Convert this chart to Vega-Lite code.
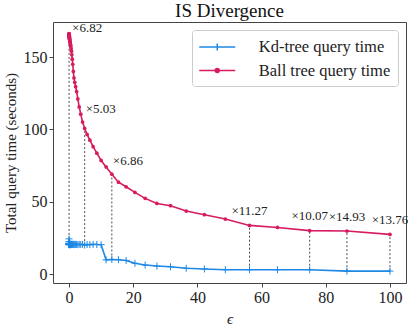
{
  "$schema": "https://vega.github.io/schema/vega-lite/v6.json",
  "width": 353,
  "height": 261,
  "autosize": {"type": "none"},
  "padding": {"left": 53, "top": 22, "right": 2, "bottom": 43},
  "background": "white",
  "config": {
    "font": "Liberation Serif",
    "view": {"stroke": "#444", "strokeWidth": 1},
    "axis": {
      "grid": false,
      "domain": false,
      "ticks": true,
      "tickSize": 4,
      "tickColor": "#444",
      "labelFont": "Liberation Serif",
      "labelFontSize": 16,
      "labelColor": "#222",
      "labelPadding": 2,
      "titleFont": "Liberation Serif",
      "titleFontSize": 15,
      "titleFontWeight": "normal",
      "titleColor": "#222"
    },
    "legend": {
      "title": null,
      "orient": "top-right",
      "offset": 8,
      "labelFont": "Liberation Serif",
      "labelFontSize": 16.5,
      "labelColor": "#222",
      "symbolSize": 324,
      "symbolStrokeWidth": 1.5,
      "symbolOffset": 8.25,
      "strokeColor": "#cccccc",
      "fillColor": "white",
      "cornerRadius": 3,
      "padding": 7,
      "rowPadding": 4.5,
      "labelOffset": 31.5
    }
  },
  "title": {"text": "IS Divergence", "font": "Liberation Serif", "fontSize": 19, "fontWeight": "normal", "color": "#111", "offset": 1},
  "data": {
    "values": [
      {"eps": 0.01, "kd": 24.3, "ball": 166.0, "ratio": "×6.82"},
      {"eps": 0.01155, "kd": 22.5, "ball": 166.2},
      {"eps": 0.01334, "kd": 21.4, "ball": 165.8},
      {"eps": 0.0154, "kd": 20.9, "ball": 165.9},
      {"eps": 0.01778, "kd": 20.6, "ball": 165.5},
      {"eps": 0.02054, "kd": 20.8, "ball": 165.6},
      {"eps": 0.02371, "kd": 20.5, "ball": 165.2},
      {"eps": 0.02738, "kd": 20.7, "ball": 165.3},
      {"eps": 0.03162, "kd": 20.4, "ball": 165.0},
      {"eps": 0.03652, "kd": 20.6, "ball": 164.9},
      {"eps": 0.04217, "kd": 20.5, "ball": 164.7},
      {"eps": 0.0487, "kd": 20.3, "ball": 164.6},
      {"eps": 0.05623, "kd": 20.6, "ball": 164.3},
      {"eps": 0.06494, "kd": 20.4, "ball": 164.1},
      {"eps": 0.07499, "kd": 20.5, "ball": 163.9},
      {"eps": 0.0866, "kd": 20.3, "ball": 163.6},
      {"eps": 0.1, "kd": 20.6, "ball": 163.4},
      {"eps": 0.1155, "kd": 20.4, "ball": 163.1},
      {"eps": 0.1334, "kd": 20.5, "ball": 162.8},
      {"eps": 0.154, "kd": 20.3, "ball": 162.5},
      {"eps": 0.1778, "kd": 20.6, "ball": 162.1},
      {"eps": 0.2054, "kd": 20.4, "ball": 161.7},
      {"eps": 0.2371, "kd": 20.5, "ball": 161.2},
      {"eps": 0.2738, "kd": 20.3, "ball": 160.8},
      {"eps": 0.3162, "kd": 20.5, "ball": 160.2},
      {"eps": 0.3652, "kd": 20.4, "ball": 159.6},
      {"eps": 0.4217, "kd": 20.6, "ball": 158.9},
      {"eps": 0.487, "kd": 20.4, "ball": 158.1},
      {"eps": 0.5623, "kd": 20.5, "ball": 157.0},
      {"eps": 0.6494, "kd": 20.3, "ball": 155.6},
      {"eps": 0.7499, "kd": 20.5, "ball": 154.0},
      {"eps": 0.866, "kd": 20.4, "ball": 151.5},
      {"eps": 1.0, "kd": 20.6, "ball": 148.5},
      {"eps": 1.1548, "kd": 20.4, "ball": 145.0},
      {"eps": 1.3335, "kd": 20.5, "ball": 140.0},
      {"eps": 1.5399, "kd": 20.3, "ball": 135.5},
      {"eps": 1.7783, "kd": 20.6, "ball": 132.5},
      {"eps": 2.0535, "kd": 20.4, "ball": 129.5},
      {"eps": 2.3714, "kd": 20.5, "ball": 126.0},
      {"eps": 2.7384, "kd": 20.3, "ball": 121.0},
      {"eps": 3.1623, "kd": 20.5, "ball": 115.5},
      {"eps": 3.6517, "kd": 20.4, "ball": 110.5},
      {"eps": 4.217, "kd": 20.5, "ball": 105.0},
      {"eps": 4.8697, "kd": 20.0, "ball": 100.6, "ratio": "×5.03"},
      {"eps": 5.6234, "kd": 20.4, "ball": 96.5},
      {"eps": 6.4938, "kd": 20.3, "ball": 92.5},
      {"eps": 7.4989, "kd": 20.5, "ball": 88.0},
      {"eps": 8.6596, "kd": 20.4, "ball": 83.5},
      {"eps": 10.0, "kd": 20.3, "ball": 78.5},
      {"eps": 11.548, "kd": 9.8, "ball": 74.0},
      {"eps": 13.335, "kd": 10.06, "ball": 69.0, "ratio": "×6.86"},
      {"eps": 15.399, "kd": 9.9, "ball": 63.5},
      {"eps": 17.783, "kd": 9.4, "ball": 60.3},
      {"eps": 20.535, "kd": 7.4, "ball": 56.4},
      {"eps": 23.714, "kd": 6.2, "ball": 52.3},
      {"eps": 27.384, "kd": 5.5, "ball": 48.8},
      {"eps": 31.623, "kd": 5.0, "ball": 47.2},
      {"eps": 36.517, "kd": 4.0, "ball": 43.5},
      {"eps": 42.17, "kd": 3.5, "ball": 41.0},
      {"eps": 48.697, "kd": 3.0, "ball": 38.0},
      {"eps": 56.234, "kd": 2.98, "ball": 33.6, "ratio": "×11.27"},
      {"eps": 64.938, "kd": 3.0, "ball": 32.2},
      {"eps": 74.989, "kd": 2.98, "ball": 30.0, "ratio": "×10.07"},
      {"eps": 86.596, "kd": 1.99, "ball": 29.7, "ratio": "×14.93"},
      {"eps": 100.0, "kd": 1.99, "ball": 27.4, "ratio": "×13.76"}
    ]
  },
  "encoding": {
    "x": {
      "field": "eps",
      "type": "quantitative",
      "scale": {"domain": [-5, 105], "nice": false, "zero": false},
      "axis": {"values": [0, 20, 40, 60, 80, 100], "title": "ϵ", "titlePadding": 6, "titleFontStyle": "italic"}
    }
  },
  "layer": [
    {
      "transform": [{"filter": "isValid(datum.ratio)"}],
      "mark": {"type": "rule", "strokeDash": [2, 2], "color": "#222", "strokeWidth": 0.8},
      "encoding": {
        "y": {"field": "kd", "type": "quantitative", "scale": {"domain": [-6.2, 174.2], "nice": false, "zero": false}, "axis": {"values": [0, 50, 100, 150], "title": "Total query time (seconds)", "titlePadding": 5}},
        "y2": {"field": "ball"}
      }
    },
    {
      "transform": [{"fold": ["kd", "ball"], "as": ["series", "time"]}],
      "layer": [
        {
          "mark": {"type": "line", "strokeWidth": 1.6},
          "encoding": {
            "y": {"field": "time", "type": "quantitative", "scale": {"domain": [-6.2, 174.2], "nice": false, "zero": false}, "title": "Total query time (seconds)"},
            "color": {
              "field": "series",
              "type": "nominal",
              "scale": {"domain": ["kd", "ball"], "range": ["#1e88e5", "#d81b60"]},
              "legend": {
                "labelExpr": "datum.value == 'kd' ? 'Kd-tree query time' : 'Ball tree query time'",
                "encode": {
                  "symbols": {
                    "update": {
                      "shape": {"signal": "datum.value == 'kd' ? 'M-2,0H2M0,-0.39V0.39' : 'M-2,0H2M0.22,0A0.22,0.22,0,1,1,-0.22,0A0.22,0.22,0,1,1,0.22,0Z'"},
                      "fill": {"signal": "datum.value == 'kd' ? 'transparent' : scale('color', datum.value)"}
                    }
                  }
                }
              }
            }
          }
        },
        {
          "transform": [{"filter": "datum.series == 'kd'"}],
          "mark": {"type": "point", "shape": "M0,-1V1M-1,0H1", "filled": false, "size": 49, "strokeWidth": 1, "color": "#1e88e5", "opacity": 1},
          "encoding": {
            "y": {"field": "time", "type": "quantitative", "scale": {"domain": [-6.2, 174.2], "nice": false, "zero": false}, "title": "Total query time (seconds)"}
          }
        },
        {
          "transform": [{"filter": "datum.series == 'ball'"}],
          "mark": {"type": "point", "shape": "circle", "filled": true, "size": 14, "color": "#d81b60", "opacity": 1},
          "encoding": {
            "y": {"field": "time", "type": "quantitative", "scale": {"domain": [-6.2, 174.2], "nice": false, "zero": false}, "title": "Total query time (seconds)"}
          }
        }
      ]
    },
    {
      "transform": [{"filter": "datum.ratio == '×6.82'"}],
      "mark": {"type": "text", "align": "left", "baseline": "middle", "dx": 3, "dy": -6, "fontSize": 13, "color": "#222"},
      "encoding": {"y": {"field": "ball", "type": "quantitative", "scale": {"domain": [-6.2, 174.2], "nice": false, "zero": false}, "title": "Total query time (seconds)"}, "text": {"field": "ratio"}}
    },
    {
      "transform": [{"filter": "datum.ratio == '×5.03'"}],
      "mark": {"type": "text", "align": "left", "baseline": "middle", "dx": 1, "dy": -19, "fontSize": 13, "color": "#222"},
      "encoding": {"y": {"field": "ball", "type": "quantitative", "scale": {"domain": [-6.2, 174.2], "nice": false, "zero": false}, "title": "Total query time (seconds)"}, "text": {"field": "ratio"}}
    },
    {
      "transform": [{"filter": "datum.ratio == '×6.86'"}],
      "mark": {"type": "text", "align": "left", "baseline": "middle", "dx": 1, "dy": -13, "fontSize": 13, "color": "#222"},
      "encoding": {"y": {"field": "ball", "type": "quantitative", "scale": {"domain": [-6.2, 174.2], "nice": false, "zero": false}, "title": "Total query time (seconds)"}, "text": {"field": "ratio"}}
    },
    {
      "transform": [{"filter": "indexof(['×11.27', '×10.07', '×14.93', '×13.76'], datum.ratio) >= 0"}],
      "mark": {"type": "text", "align": "center", "baseline": "middle", "dy": -14.5, "fontSize": 13, "color": "#222"},
      "encoding": {"y": {"field": "ball", "type": "quantitative", "scale": {"domain": [-6.2, 174.2], "nice": false, "zero": false}, "title": "Total query time (seconds)"}, "text": {"field": "ratio"}}
    }
  ]
}
